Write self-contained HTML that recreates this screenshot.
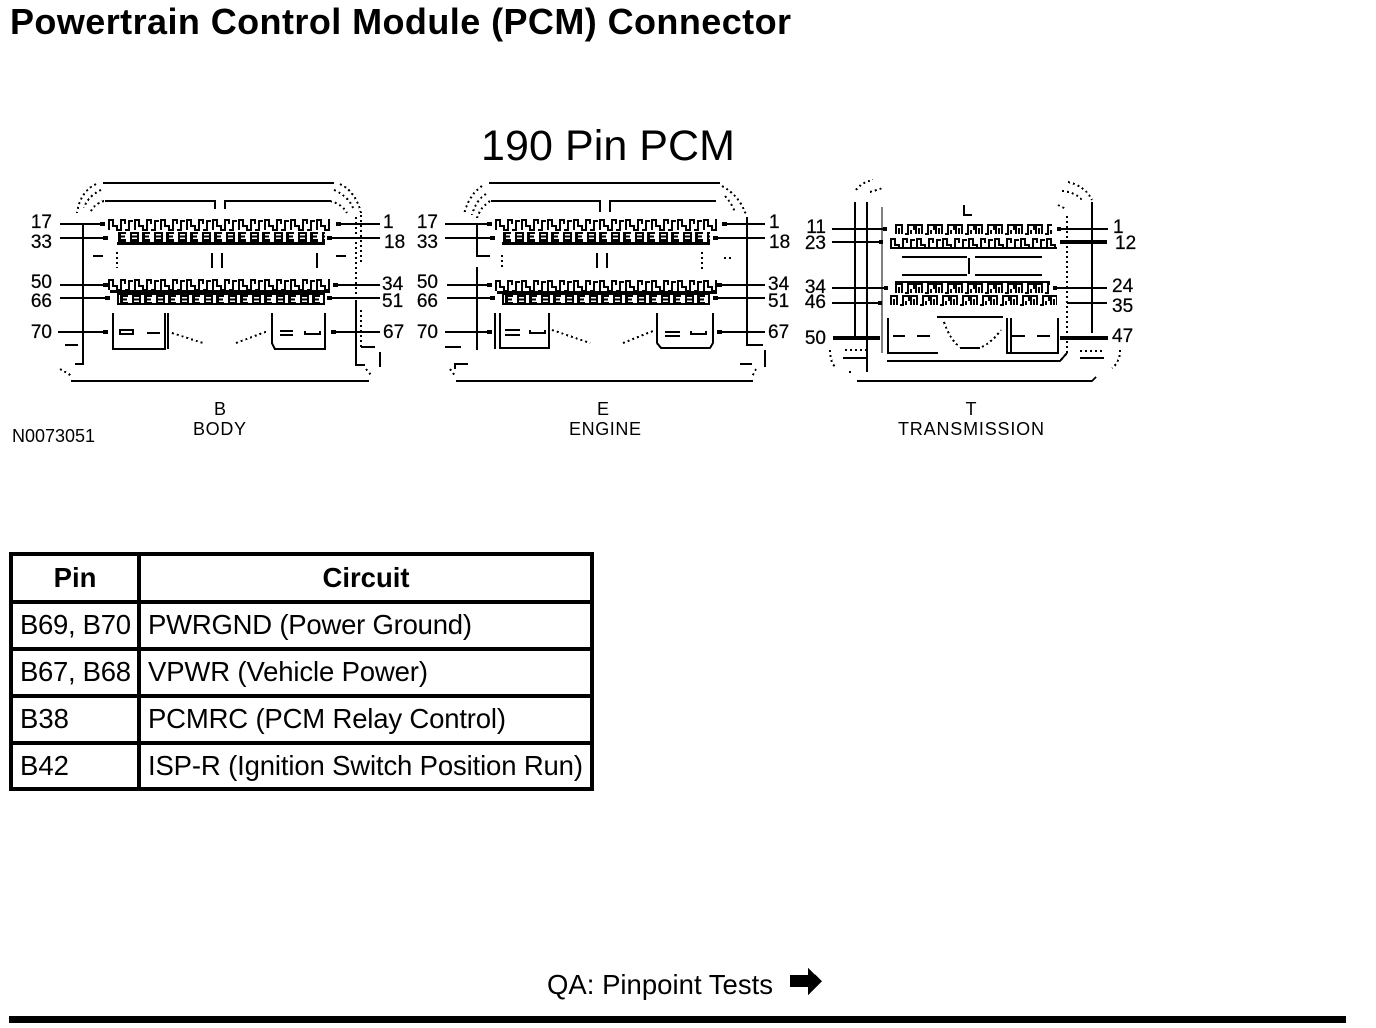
<!DOCTYPE html>
<html><head><meta charset="utf-8"><title>Powertrain Control Module (PCM) Connector</title>
<style>
html,body{margin:0;padding:0;background:#fff;width:1376px;height:1028px;overflow:hidden}
svg{display:block}
text{font-family:"Liberation Sans",sans-serif;fill:#000}
.l{font-size:19px;stroke:#000;stroke-width:.25}
.c{font-size:18px}
.t{font-size:27.5px}
.s{fill:none;stroke:#000;stroke-width:2}
.h{fill:none;stroke:#000;stroke-width:4}
.n{fill:none;stroke:#000;stroke-width:1.4}
.d{fill:none;stroke:#000;stroke-width:2;stroke-dasharray:2 3}
</style></head><body>
<svg width="1376" height="1028" viewBox="0 0 1376 1028" xmlns="http://www.w3.org/2000/svg" shape-rendering="crispEdges">
<defs>
<pattern id="a" width="26" height="13" patternUnits="userSpaceOnUse"><path d="M1 12V2H5V8H9V12H13V2H17V6M17 12H21V3H25" fill="none" stroke="#000" stroke-width="2"/></pattern>
<pattern id="b" width="24" height="9" patternUnits="userSpaceOnUse"><path d="M1 0H9V2H4V3.5H8V5.5H4V7H9V9H1ZM13 0H22V2H15V3.5H22V5.5H15V7H22V9H13Z"/><path d="M20 2h2v5h-2Z"/></pattern>
<pattern id="c" width="20" height="11" patternUnits="userSpaceOnUse"><path d="M1 10V1H7V10M4 4V10M10 10H13V1H19V6M16 6V10" fill="none" stroke="#000" stroke-width="2"/></pattern>
</defs>

<text x="10" y="34" font-size="36" font-weight="bold" textLength="781" lengthAdjust="spacing">Powertrain Control Module (PCM) Connector</text>
<text x="481" y="160" font-size="43" textLength="254" lengthAdjust="spacing">190 Pin PCM</text>

<!-- BODY connector -->
<path class="s" d="M103 183H334M105 201H215V209M225 209V201H330M71 381H369M83 225V364H75M356 300V365H365M361 347H375M380 352V367M212 253V268M222 253V268M317 253V268M93 256H103M336 256H346M65 345H78M113 313V349H165V313M168 313V349M272 313V343L275 349H325V313M147 333H160M280 331H293M280 335H293M305 331V334H320V331"/>
<path class="s" d="M120 330H133V334H120Z"/>
<path class="d" d="M356 217V300M361 215V262M361 310V347M96 184Q80 192 77 213M101 190Q88 196 84 208M104 201Q94 204 90 213M340 184Q356 192 361 213M334 190Q348 196 353 208M330 201Q342 204 347 213M172 333L203 343M236 343L268 331M117 252V268M60 369L72 376M366 369L372 376"/>
<path class="s" d="M60 224H105M60 238H108M60 285H108M60 298H110M58 332H108M336 224H380M327 238H380M333 285H380M327 298H380M331 332H380"/>
<path class="h" d="M100 224h5M103 238h5M103 285h5M105 298h5M103 332h5M336 224h5M327 238h5M333 285h5M327 298h5M331 332h5"/>
<rect transform="translate(108,218)" width="222" height="13" fill="url(#a)"/>
<rect transform="translate(117,232)" width="208" height="10" fill="url(#b)"/><rect x="117" y="242" width="208" height="3"/>
<rect transform="translate(108,278)" width="222" height="12" fill="url(#a)"/><rect x="110" y="290" width="220" height="3"/>
<rect x="117" y="293" width="208" height="12"/><rect x="119" y="295" width="204" height="8" fill="#fff"/><rect transform="translate(119,295)" width="204" height="8" fill="url(#b)"/>
<g class="l">
<text x="52" y="228" text-anchor="end">17</text><text x="52" y="248" text-anchor="end">33</text><text x="52" y="288" text-anchor="end">50</text><text x="52" y="307" text-anchor="end">66</text><text x="52" y="338" text-anchor="end">70</text>
<text x="383" y="228">1</text><text x="384" y="248">18</text><text x="382" y="290">34</text><text x="382" y="307">51</text><text x="383" y="338">67</text>
</g>
<text class="c" x="220" y="415" text-anchor="middle">B</text>
<text class="c" x="193" y="435" textLength="53" lengthAdjust="spacing">BODY</text>
<text class="c" x="12" y="442" textLength="83" lengthAdjust="spacing">N0073051</text>

<!-- ENGINE connector -->
<path class="s" d="M489 183H720M491 201H600V212M610 212V201H716M456 381H753M477 225V256H490M477 267V350M747 217V345H763M765 350V367M445 347H461M455 369V364H468M740 364H752M597 253V268M607 253V268M495 313V349M500 313V348H549V313M657 313V343L661 348H710L713 343V313M505 330H520M505 335H520M530 330V333H545V330M665 332H680M665 336H680M691 331V334H706V331"/>
<path class="d" d="M482 186Q468 196 464 215M486 194Q476 200 472 215M490 201Q480 208 477 218M722 186Q740 196 746 215M725 196Q732 204 735 212M502 255V270M702 252V270M552 330L590 343M623 343L653 331M724 258H733M450 369L456 377M756 369L752 377"/>
<path class="s" d="M445 224H492M445 238H495M447 285H492M447 298H495M445 332H492M722 224H765M713 238H765M717 285H765M713 298H765M717 332H765"/>
<path class="h" d="M487 224h5M490 238h5M487 285h5M490 298h5M487 332h5M722 224h5M713 238h5M717 285h5M713 298h5M717 332h5"/>
<rect transform="translate(495,218)" width="222" height="13" fill="url(#a)"/>
<rect transform="translate(502,232)" width="208" height="10" fill="url(#b)"/><rect x="502" y="242" width="208" height="3"/>
<rect transform="translate(495,279)" width="222" height="12" fill="url(#a)"/><rect x="497" y="291" width="220" height="3"/>
<rect x="502" y="294" width="208" height="11"/><rect x="504" y="295" width="204" height="8" fill="#fff"/><rect transform="translate(504,295)" width="204" height="8" fill="url(#b)"/>
<g class="l">
<text x="438" y="228" text-anchor="end">17</text><text x="438" y="248" text-anchor="end">33</text><text x="438" y="288" text-anchor="end">50</text><text x="438" y="307" text-anchor="end">66</text><text x="438" y="338" text-anchor="end">70</text>
<text x="769" y="228">1</text><text x="769" y="248">18</text><text x="768" y="290">34</text><text x="768" y="307">51</text><text x="768" y="338">67</text>
</g>
<text class="c" x="603" y="415" text-anchor="middle">E</text>
<text class="c" x="569" y="435" textLength="72" lengthAdjust="spacing">ENGINE</text>

<!-- TRANSMISSION connector -->
<path class="s" d="M855 202V340M867 202V372M1092 202V333M857 381H1092L1096 377M887 361H1060L1067 353M902 257H967M902 275H967M975 257H1042M975 275H1042M969 258V274M888 318V353H938M1007 318V353H1058V318M1011 318V353M937 317H1003M893 336H905M917 336H930M1012 336H1025M1037 336H1050M960 348H980M843 358H867M1080 358H1104M964 205V215L972 215"/>
<path class="n" d="M882 207V353"/>
<path class="d" d="M856 190Q862 182 873 180M870 192L883 188M1067 216V354M1068 182Q1085 186 1092 200M1062 191Q1075 192 1082 200M1058 205L1066 209M944 322Q950 340 960 347M982 347Q992 342 1001 330M830 350Q830 362 836 368M1120 350Q1120 362 1112 368M845 350H866M1080 351H1104M849 372H852"/>
<path class="s" d="M832 229H886M832 242H882M832 288H888M832 303H882M1057 229H1108M1053 288H1107M1067 303H1107"/>
<path class="h" d="M833 338H880M1060 338H1108M1060 242H1107M883 229h4M879 242h4M884 288h4M878 303h4M1057 229h4M1053 288h4"/>
<rect transform="translate(895,224)" width="157" height="11" fill="url(#c)"/>
<rect transform="translate(890,237)" width="167" height="10" fill="url(#a)"/><rect x="890" y="247" width="167" height="2"/>
<rect x="895" y="281" width="155" height="2"/><rect transform="translate(895,283)" width="155" height="11" fill="url(#c)"/>
<rect transform="translate(890,295)" width="167" height="11" fill="url(#c)"/>
<g class="l">
<text x="826" y="233" text-anchor="end">11</text><text x="826" y="249" text-anchor="end">23</text><text x="826" y="293" text-anchor="end">34</text><text x="826" y="308" text-anchor="end">46</text><text x="826" y="344" text-anchor="end">50</text>
<text x="1113" y="233">1</text><text x="1115" y="249">12</text><text x="1112" y="292">24</text><text x="1112" y="312">35</text><text x="1112" y="342">47</text>
</g>
<text class="c" x="971" y="415" text-anchor="middle">T</text>
<text class="c" x="898" y="435" textLength="146" lengthAdjust="spacing">TRANSMISSION</text>

<!-- Table -->
<rect x="9" y="552" width="585" height="4"/>
<rect x="9" y="600" width="585" height="4"/>
<rect x="9" y="647" width="585" height="4"/>
<rect x="9" y="694" width="585" height="4"/>
<rect x="9" y="741" width="585" height="4"/>
<rect x="9" y="787" width="585" height="4"/>
<rect x="9" y="552" width="4" height="239"/>
<rect x="137" y="552" width="4" height="239"/>
<rect x="590" y="552" width="4" height="239"/>
<text class="t" x="75" y="587" text-anchor="middle" font-weight="bold">Pin</text>
<text class="t" x="366" y="587" text-anchor="middle" font-weight="bold">Circuit</text>
<text class="t" x="20" y="634" textLength="111" lengthAdjust="spacing">B69, B70</text>
<text class="t" x="148" y="634" textLength="324" lengthAdjust="spacing">PWRGND (Power Ground)</text>
<text class="t" x="20" y="681" textLength="111" lengthAdjust="spacing">B67, B68</text>
<text class="t" x="148" y="681" textLength="280" lengthAdjust="spacing">VPWR (Vehicle Power)</text>
<text class="t" x="20" y="728">B38</text>
<text class="t" x="148" y="728" textLength="358" lengthAdjust="spacing">PCMRC (PCM Relay Control)</text>
<text class="t" x="20" y="775">B42</text>
<text class="t" x="148" y="775" textLength="435" lengthAdjust="spacing">ISP-R (Ignition Switch Position Run)</text>

<!-- Footer -->
<text class="t" x="547" y="994" textLength="226" lengthAdjust="spacing">QA: Pinpoint Tests</text>
<polygon points="790,975 808,975 808,968 822,981 808,995 808,987 790,987"/>
<rect x="9" y="1016" width="1337" height="7"/>
</svg>
</body></html>
